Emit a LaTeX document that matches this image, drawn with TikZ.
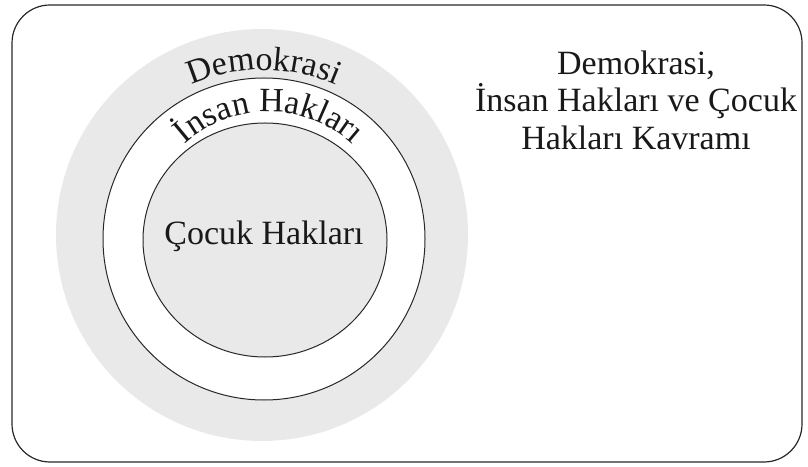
\documentclass[tikz,border=0pt]{standalone}
\usepackage{fontspec}
\setmainfont{Liberation Serif}
\usetikzlibrary{decorations.text}
\definecolor{ringgrey}{RGB}{233,233,233}
\definecolor{inkline}{RGB}{40,40,40}
\definecolor{inktext}{RGB}{25,25,25}
\newcommand{\bigtxtfont}{\fontsize{34}{37}\selectfont}
\begin{document}
\begin{tikzpicture}[x=1pt,y=1pt,
  ringline/.style={draw=inkline, line width=1pt},
  txtnode/.style={font=\bigtxtfont, inner sep=0pt, anchor=base, text=inktext},
  curvetext/.style={decorate, decoration={text along path, text format delimiters={|}{|}, text={|\bigtxtfont\color{inktext}|#1}, text align=center}}]
\useasboundingbox (0,0) rectangle (808,466);
\draw[inkline, line width=1.2pt, rounded corners=38pt] (12,4) rectangle (802,461);
\fill[ringgrey] (262,231) circle[radius=206];
\draw[ringline, fill=white] (264,227) circle[radius=161];
\draw[ringline, fill=ringgrey] (265,226) ellipse[x radius=122, y radius=117];
\path[curvetext={Demokrasi}] (264,216) ++(130:180) arc[start angle=130, end angle=50, radius=180];
\path[curvetext={İnsan Hakları}] (269,229) ++(150:125) arc[start angle=150, end angle=30, radius=125];
\node[txtnode] (inner) at (264,221) {Çocuk Hakları};
\node[txtnode] (t1) at (636,391) {Demokrasi,};
\node[txtnode] (t2) at (636,354) {İnsan Hakları ve Çocuk};
\node[txtnode] (t3) at (636,316) {Hakları Kavramı};
\end{tikzpicture}
\end{document}
